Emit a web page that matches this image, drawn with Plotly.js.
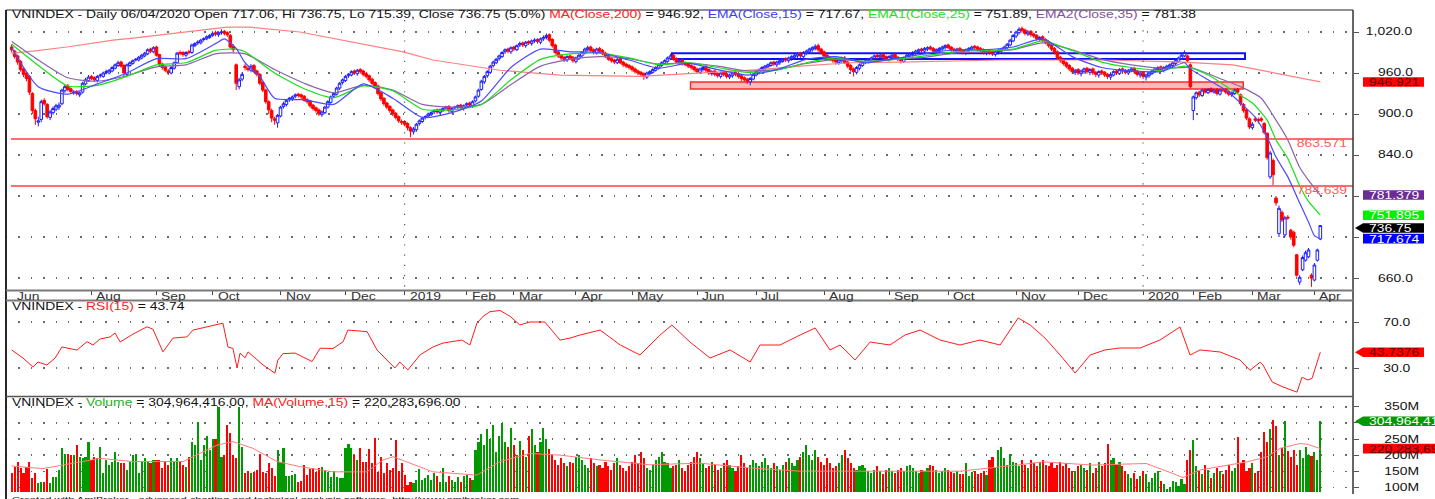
<!DOCTYPE html>
<html><head><meta charset="utf-8">
<script src="https://cdn.plot.ly/plotly-3.0.1.min.js"></script>
<style>html,body{margin:0;padding:0;background:#fff;overflow:hidden}#chart{width:1435px;height:499px}</style>
</head><body><div id="chart"></div>
<script>
// ---------------- DATA ----------------
const open = [998,992,985,977,966,960,955,930,905,888,892,920,914,895,902,907,910,915,934,941,937,931,933,928,932,944,949,955,953,949,956,955,961,960,963,967,971,976,971,958,971,974,979,979,982,985,988,995,991,998,987,973,969,963,960,967,975,990,990,986,991,990,1000,1004,1004,1009,1010,1012,1015,1019,1016,1019,1021,1019,1015,999,972,940,951,970,967,964,971,963,958,946,935,918,905,893,887,897,911,914,921,922,926,929,928,926,921,919,913,909,906,899,902,910,917,926,929,938,946,949,956,957,963,959,965,963,959,956,951,946,941,931,923,916,911,906,901,896,889,889,886,880,874,877,886,889,895,897,899,903,906,902,905,909,911,904,909,910,913,908,913,916,912,919,926,936,947,956,961,971,975,981,984,991,995,991,998,994,1001,1004,1000,1006,1003,1007,1009,1005,1010,1012,1016,1009,1001,991,986,983,979,985,983,977,981,985,989,994,998,994,989,996,993,989,986,981,979,975,981,976,973,971,969,966,963,961,959,954,959,961,964,967,971,974,977,981,986,981,975,979,975,973,971,969,966,961,965,969,965,959,963,959,955,961,959,954,956,961,959,956,953,951,947,951,957,961,964,967,969,971,976,972,975,977,981,978,981,983,985,989,984,989,991,994,996,1000,995,991,986,983,981,979,975,978,982,976,971,966,961,967,971,975,977,979,981,986,983,987,984,980,983,987,983,981,977,981,985,987,989,991,995,992,995,998,996,991,993,995,997,1001,998,995,992,996,993,989,993,995,999,998,996,994,989,993,991,987,990,992,994,997,1001,1007,1014,1019,1025,1023,1017,1021,1017,1015,1009,1013,1009,1006,1001,996,991,983,979,975,971,967,961,965,959,962,967,961,966,961,957,963,961,958,954,957,963,959,966,964,960,963,967,963,957,961,954,956,959,962,965,969,964,967,969,971,974,977,981,985,985,972,905,924,932,927,936,931,937,932,936,929,936,936,933,928,930,936,928,914,906,893,880,893,892,893,886,872,808,832,777,725,756,723,749,730,727,694,654,672,686,691,664,657,686,717.06];
const high = [1002,994,987,979,968,962,957,932,908,896,921,923,916,906,911,915,917,937,943,944,939,935,935,933,947,953,957,957,955,957,959,962,965,966,970,974,978,978,973,974,977,980,982,985,988,991,996,997,999,1000,988,975,971,966,970,977,991,993,992,992,994,1003,1005,1008,1010,1012,1015,1017,1021,1022,1021,1024,1023,1021,1017,1002,974,953,961,973,970,973,973,965,960,948,937,920,908,896,900,912,918,922,925,927,930,931,930,928,923,921,915,911,908,905,912,920,927,932,940,947,952,957,960,964,965,966,967,965,961,958,953,948,943,933,925,918,913,908,903,898,892,891,888,882,881,887,892,896,898,902,904,907,908,908,910,912,913,910,912,914,915,914,917,918,920,927,937,950,957,964,972,978,982,987,992,996,997,999,1000,1002,1006,1006,1007,1008,1009,1011,1011,1012,1015,1018,1018,1011,1003,993,988,985,986,987,985,984,988,992,997,1000,1000,996,997,998,995,991,988,983,981,982,983,978,975,973,971,968,965,963,961,962,964,967,970,974,977,980,984,988,988,983,980,981,977,975,973,971,968,968,970,971,967,964,965,961,962,963,961,959,962,963,960,958,955,953,954,960,964,967,970,972,974,977,978,978,980,982,983,984,986,988,990,991,992,994,997,999,1002,1003,997,993,988,985,983,981,981,984,985,978,973,968,970,974,978,981,982,984,987,988,988,989,986,986,988,989,985,983,984,988,990,992,994,996,997,998,999,1000,998,996,998,1000,1002,1003,999,997,997,998,995,996,998,1000,1001,1000,998,996,994,995,993,993,995,997,1000,1004,1010,1017,1022,1027,1028,1025,1023,1023,1019,1017,1014,1015,1011,1008,1003,998,993,985,981,977,973,969,966,967,965,968,969,967,968,963,964,965,963,960,960,964,965,967,968,966,966,968,969,965,962,963,959,962,965,968,970,971,970,972,974,977,980,984,988,993,987,974,927,933,934,937,938,938,939,937,938,937,938,938,935,933,937,938,930,916,908,895,888,896,895,896,888,873,846,835,780,766,759,751,752,732,729,695,664,693,700,704,667,682,703,736.75];
const low = [990,981,972,962,954,948,928,900,884,882,888,912,893,891,899,904,906,913,931,933,930,928,927,925,930,942,947,950,947,946,953,953,958,958,961,965,969,968,955,955,969,972,977,977,980,983,986,989,989,984,970,965,961,957,958,965,973,986,984,983,987,988,998,1001,1002,1006,1008,1010,1013,1014,1013,1016,1015,1013,996,990,935,936,948,964,962,961,960,955,942,932,915,900,888,884,880,895,908,911,918,919,923,924,922,918,915,909,905,902,897,896,900,908,915,923,927,935,943,947,953,955,957,956,959,955,952,947,942,937,927,919,912,907,902,897,892,887,884,882,876,866,870,874,883,887,892,895,897,900,900,899,903,906,902,901,906,907,906,905,910,910,909,917,924,934,944,953,959,968,973,978,982,988,989,988,992,992,998,998,997,1001,1000,1004,1003,1002,1007,1009,1005,997,987,982,979,976,976,979,975,974,979,983,987,992,991,987,987,989,986,982,978,975,973,973,973,969,967,965,962,959,957,955,950,951,957,959,962,965,969,972,975,979,978,973,972,971,970,967,965,962,959,959,962,961,957,956,955,953,952,955,952,951,953,955,952,948,947,944,942,949,955,958,962,964,967,969,970,969,972,975,976,975,978,980,982,982,981,986,988,991,993,991,987,982,979,977,975,972,972,975,973,967,962,955,958,964,969,973,974,976,979,981,980,980,978,977,980,979,977,974,975,979,982,984,986,988,990,989,992,993,989,988,990,992,994,995,991,990,989,990,987,986,990,992,994,992,990,987,986,987,985,984,987,990,992,995,999,1005,1011,1016,1019,1015,1014,1013,1011,1007,1006,1005,1002,997,992,987,979,975,971,967,963,959,957,957,955,959,959,957,957,954,953,957,954,951,950,955,957,957,960,958,957,961,959,955,953,951,949,953,957,960,962,962,961,964,966,968,971,975,979,983,975,937,891,921,925,925,930,929,931,930,927,927,932,929,926,925,928,929,912,902,891,878,877,888,886,888,870,833,805,796,766,720,742,720,745,716,705,662,650,670,684,689,647,655,684,715.39];
const close = [994,984,976,965,958,952,932,905,893,890,918,915,896,903,908,912,913,935,940,936,933,932,930,931,945,950,954,952,950,955,957,960,962,964,968,972,975,970,960,972,975,978,980,983,986,989,994,992,997,986,972,968,964,961,968,975,989,989,987,990,990,1001,1003,1005,1008,1010,1013,1015,1018,1017,1019,1020,1018,1016,998,994,945,950,958,968,965,970,962,958,945,935,918,906,894,891,898,910,915,920,923,925,928,927,925,920,918,912,908,905,900,903,910,918,925,930,938,945,950,955,958,962,960,964,962,958,955,950,945,940,930,922,915,910,905,900,895,890,888,885,880,875,878,885,890,894,896,900,902,905,903,906,908,910,905,908,910,912,909,912,915,913,918,925,935,948,955,962,970,976,980,985,990,994,992,997,995,1000,1003,1001,1005,1004,1007,1008,1006,1010,1012,1015,1008,1000,990,985,982,980,984,982,978,982,986,990,995,997,993,990,995,992,988,985,980,978,976,980,975,972,970,968,965,962,960,958,955,960,962,965,968,972,975,978,982,985,980,976,978,974,972,970,968,965,962,966,968,964,960,962,958,956,960,958,955,957,960,958,955,952,950,948,952,958,962,965,968,970,972,975,973,976,978,980,979,982,984,986,988,985,990,992,995,997,999,994,990,985,982,980,978,976,979,981,975,970,965,962,968,972,976,978,980,982,985,984,986,983,981,984,986,982,980,978,982,986,988,990,992,994,993,996,997,995,992,994,996,998,1000,997,994,993,995,992,990,994,996,998,997,995,993,990,992,990,988,991,993,995,998,1002,1008,1015,1020,1024,1022,1018,1020,1016,1014,1010,1012,1008,1005,1000,995,990,982,978,974,970,966,962,964,960,963,966,962,965,960,958,962,960,957,955,958,962,960,965,963,961,964,966,962,958,960,955,957,960,963,966,968,965,968,970,972,975,978,982,986,990,978,940,925,931,928,935,932,936,933,935,930,935,935,932,929,931,935,932,915,905,894,881,885,891,890,891,873,836,843,811,770,762,745,748,748,720,708,664,661,690,697,701,660,679,701,736.75];
// volume in millions of shares
const volume = [143,164,179,159,145,164,179,128,143,112,117,117,156,112,133,133,154,221,203,205,200,200,231,195,190,195,242,185,195,190,226,143,185,169,179,210,179,176,174,154,179,200,203,143,179,190,179,174,185,185,185,159,179,169,190,179,190,179,169,164,195,242,231,304,185,231,259,216,250,250,350,195,200,294,268,200,190,350,226,143,150,145,148,154,203,148,145,177,159,135,216,179,221,135,135,138,141,117,119,169,138,156,159,148,159,164,154,148,133,151,133,128,130,221,234,221,200,185,221,179,179,218,174,252,148,195,143,174,154,159,247,151,177,138,107,117,112,122,156,122,128,138,122,143,135,117,161,117,135,122,117,133,117,135,138,128,122,216,240,265,230,280,250,295,210,260,300,240,225,285,230,200,245,215,195,260,280,230,210,240,285,250,220,200,185,170,190,175,165,180,175,195,200,185,170,160,190,175,165,170,160,180,165,155,175,190,170,160,150,165,180,200,175,210,190,160,155,170,185,195,210,180,175,160,165,170,185,160,150,170,180,195,210,190,175,160,165,180,170,155,160,175,185,170,160,150,165,200,175,160,170,185,175,165,180,190,170,160,175,165,155,170,180,190,175,165,185,195,210,230,200,185,215,195,180,170,190,175,160,165,175,200,215,190,175,160,155,165,170,160,150,145,155,165,150,140,155,160,150,145,155,160,150,165,170,160,150,145,155,150,160,170,165,155,145,150,160,155,148,145,150,142,140,174,135,148,150,140,145,150,138,185,195,160,216,226,190,170,205,180,175,165,185,170,160,185,175,165,180,185,170,165,175,160,170,180,165,175,160,150,150,165,170,160,155,175,145,160,180,165,175,236,185,190,170,180,165,150,140,130,145,125,135,150,140,115,130,145,150,120,110,95,100,120,115,105,125,110,185,216,247,165,150,140,170,155,130,145,160,150,140,155,170,150,160,257,175,185,150,160,175,145,150,211,273,242,281,310,291,200,221,305,213,195,216,169,216,190,226,200,197,210,185,304.96];

// indicator lines, read at sample bars (bar index, value)
const ma200Bar = [0,7.2,18.7,34.3,41.1,72.9,80.7,97.6,132.5,142.6,165.3,185.6,212.7,233,253.3,266.9,283.8,300.7,334.6,370.4,396.5,413.4,425,443];
const ma200Val = [989,992,998,1008,1011,1027,1027,1020,991,979,964,957,955,960,965,970,975,976,979,979,976,972,962,946.92];
const ema15Bar = [0,9,19,29,39,49,59,69,72,76,79,84,89,99,109,119,129,139,149,159,169,179,189,199,209,219,229,239,249,259,269,279,289,299,309,319,329,339,349,359,369,379,389,397,399,405,411,417,421,425,428,432,436,439,441,443];
const ema15Val = [997,940,929,944,960,981,981,1003,1010,996,975,955,923,921,914,944,923,895,902,919,968,995,991,990,979,967,974,965,957,965,980,984,975,981,988,994,994,998,1010,984,968,963,962,975,966,950,935,912,895,866,837,808,770,742,722,717.67];
const ema25Bar = [0,9,19,29,39,49,59,69,76,79,89,99,109,119,129,139,149,159,169,179,189,199,209,219,229,239,249,259,269,279,289,299,309,319,329,339,349,359,369,379,389,397,399,406,413,420,425,428,432,436,439,443];
const ema25Val = [1002,971,941,942,955,972,975,993,995,991,960,937,924,941,934,907,906,914,950,980,988,989,982,972,975,968,961,964,975,982,977,980,985,991,993,995,1007,993,976,968,964,970,968,955,935,916,891,862,835,795,772,751.89];
const ema35Bar = [0,9,19,29,39,49,59,69,79,89,99,109,119,129,139,149,159,169,179,189,199,209,219,229,239,249,259,269,279,289,299,309,319,329,339,349,359,369,379,389,399,409,416,423,428,432,436,439,443];
const ema35Val = [1006,979,953,948,956,969,972,988,988,965,945,931,942,935,914,910,914,943,970,980,984,981,973,975,970,963,965,974,980,977,980,983,989,991,994,1004,994,980,972,967,968,952,940,923,891,862,822,803,781.38];
const rsiBar = [0,3.8,7.2,8.9,11.9,14.7,17,22.1,25.5,27.5,29.9,33.3,35,36.7,41,45.8,47.8,51.2,54.6,59.3,61.4,66.1,68.1,71.5,73.2,74.9,76.3,77.3,79,80,85.1,89.1,90.1,91.8,95.9,101.7,104.4,108.8,112.2,113.8,120.3,123.7,129.7,131.4,134.1,138.2,142.6,146,152.4,155.1,157.5,159.6,161.9,165.3,168.7,172,175.4,180.5,185.6,189,192.4,199.2,206,212.7,219.5,223.5,229.6,236.4,243.2,250,253.3,260.1,266.9,272,277,280.4,285.5,290.6,297.3,302.4,307.5,314.3,321,327.8,334.6,340.7,344.8,349.8,354.9,360,365.1,370.1,375.2,382,388.7,395.5,398.9,402.3,409.1,415.8,419.2,422.6,423.6,426.7,430.4,435.1,436.8,438.8,440.2,443];
const rsiVal = [45.7,38.7,30.9,35.2,32.6,38.7,48.3,45.6,52.9,50,55.2,57,60.4,52.6,59.4,65.8,63.8,44,56,57,63,66,67,69,48.3,47,30,43,38.8,44,32.6,25.5,36.8,42.5,43,35.6,47.2,47,52.9,63,61.6,45.6,30,35.2,28.3,41.3,48.3,51.7,54.3,50,69,75,79,80,75,67.4,70,70,54.3,56,58.7,63,50,41.3,58.7,67.4,52.6,38.7,45.7,35.2,50,50,58.7,64.8,45.7,50,37,52.6,50,58.7,63,54.3,50,54.3,50,73.5,67.4,56,41.3,25.6,41.3,45.7,47.4,47.4,54.3,65.7,41.3,45.7,43.9,37,28,35,32.6,17.8,13.5,9,22,19.6,21,43.74];
const volMaBar = [0,10.6,29.9,41,58,69.5,74.9,81.7,89.8,97.6,108.8,120.3,125.7,129.1,142.6,157.5,165.3,175.4,185.6,199.2,216,233,250,266.9,283.8,300.7,321,340.3,349.1,366,384,393.1,396.5,402.3,411.4,418.2,425,429.4,436.1,438.5,443];
const volMaVal = [166,158,190,180,180,231,242,221,180,164,148,148,185,195,148,138,180,205,200,185,170,175,160,150,150,150,150,169,179,169,174,143,130,154,169,179,195,221,236,234,220.28];

// axis ticks / labels
const monthLabel = ['Jun','Aug','Sep','Oct','Nov','Dec','2019','Feb','Mar','Apr','May','Jun','Jul','Aug','Sep','Oct','Nov','Dec','2020','Feb','Mar','Apr'];
const monthBar   = [0,27,49,68,91,113,133,154,170,191,210,232,252,275,297,317,340,361,383,400,420,441];
const yearBar = [133,383];
const priceTick = [1020,960,900,840,780,720,660];
const priceTickText = ['1,020.0','960.0','900.0','840.0','','','660.0'];
const rsiTick = [70,30];
const rsiTickText = ['70.0','30.0'];
const volTick = [350,300,250,200,150,100];
const volTickText = ['350M','','250M','200M','150M','100M'];
// horizontal study lines and zones
const levelVal = [863.571, 794.6];
const levelText = ['863.571','784.639'];
const zoneBar0 = [223.5, 229.8];
const zoneBar1 = [417.5, 416.9];
const zoneLow  = [980.5, 936.6];
const zoneHigh = [988.8, 946.8];
// last-value tags
const mainTagVal  = [946.921, 781.379, 751.895, 736.75, 717.674];
const mainTagText = ['946.921','781.379','751.895','736.75','717.674'];
const rsiTagText = '43.7376';
const volTagText = ['304,964,416','220,283,696'];

// ---------------- LAYOUT GEOMETRY ----------------
const L=6, R=1353, T=10, B=492;
const X0=-1.93, X1=454.06;
const MAIN=[642.44,1052.19], RSI=[5.22,88.70], VOL=[85.4,380.5];
const MAINPX=[290,10], RSIPX=[396.5,300.5], VOLPX=[492,397];
const SX = 1.39; // horizontal stretch of the AmiBroker text
const FONT = 'Liberation Sans, Arial, sans-serif';
const pxX = v => (v-L)/(R-L);
const pxY = v => (B-v)/(B-T);
const barPx = i => L + (i-X0)/(X1-X0)*(R-L);
const toPx = (v, rng, pxr) => pxr[0] - (v-rng[0])/(rng[1]-rng[0])*(pxr[0]-pxr[1]);

const idx = close.map((_, i) => i);
const volColor = close.map((c, i) => c >= open[i] ? '#009a00' : '#ff0000');

const traces = [
  {type:'scatter', mode:'lines', x:ma200Bar, y:ma200Val, line:{color:'#ff8080', width:1.2}, xaxis:'x', yaxis:'y'},
  {type:'scatter', mode:'lines', x:ema35Bar, y:ema35Val, line:{color:'#8a64aa', width:1.2, shape:'spline', smoothing:0.6}, xaxis:'x', yaxis:'y'},
  {type:'scatter', mode:'lines', x:ema25Bar, y:ema25Val, line:{color:'#19e019', width:1.2, shape:'spline', smoothing:0.6}, xaxis:'x', yaxis:'y'},
  {type:'scatter', mode:'lines', x:ema15Bar, y:ema15Val, line:{color:'#4a4aff', width:1.2, shape:'spline', smoothing:0.6}, xaxis:'x', yaxis:'y'},
  {type:'candlestick', x:idx, open:open, high:high, low:low, close:close, xaxis:'x', yaxis:'y',
   increasing:{line:{color:'#1c1cff', width:1}, fillcolor:'#ffffff'},
   decreasing:{line:{color:'#ff0000', width:1}, fillcolor:'#ff0000'}, whiskerwidth:0},
  {type:'scatter', mode:'lines', x:rsiBar, y:rsiVal, line:{color:'#ff1a1a', width:1}, xaxis:'x', yaxis:'y2'},
  {type:'bar', x:idx, y:volume, marker:{color:volColor, line:{width:0}}, width:0.72, xaxis:'x', yaxis:'y3'},
  {type:'scatter', mode:'lines', x:volMaBar, y:volMaVal, line:{color:'#ff7a7a', width:1}, xaxis:'x', yaxis:'y3'}
];

const grid = {showgrid:true, gridcolor:'#6a6a6a', gridwidth:1.4, griddash:'1.4px,11px', zeroline:false, showline:false,
  side:'right', ticks:'outside', ticklen:5, tickwidth:1, tickcolor:'#555', showticklabels:false, anchor:'x', fixedrange:true};

const layout = {
  width:1435, height:499, margin:{l:L, r:1435-R, t:T, b:499-B}, paper_bgcolor:'#fff', plot_bgcolor:'#fff',
  showlegend:false, hovermode:false, bargap:0, boxgap:0.12, boxgroupgap:0,
  font:{family:FONT, size:10, color:'#111'},
  xaxis:{range:[X0,X1], showgrid:false, zeroline:false, showline:false, anchor:'y', ticks:'outside', ticklen:4,
    tickcolor:'#444', tickvals:monthBar.slice(1), showticklabels:false, rangeslider:{visible:false}, fixedrange:true},
  yaxis:Object.assign({}, grid, {domain:[pxY(MAINPX[0]), pxY(MAINPX[1])], range:MAIN, tickvals:priceTick}),
  yaxis2:Object.assign({}, grid, {domain:[pxY(RSIPX[0]), pxY(RSIPX[1])], range:RSI, tickvals:rsiTick}),
  yaxis3:Object.assign({}, grid, {domain:[0, pxY(VOLPX[1])], range:VOL, tickvals:volTick}),
  shapes:[], annotations:[]
};
const S = layout.shapes, A = layout.annotations;
const pline = (x0,y0,x1,y1,color,w,dash) => S.push({type:'line', xref:'paper', yref:'paper', x0:pxX(x0), y0:pxY(y0), x1:pxX(x1), y1:pxY(y1), line:{color:color, width:w, dash:dash||'solid'}});
const ptext = (x, y, text, opt) => A.push(Object.assign({xref:'paper', yref:'paper', x:pxX(x), y:pxY(y), text:text, showarrow:false,
  xanchor:'left', align:'left', yanchor:'middle', font:{family:FONT, size:10, color:'#111'}}, opt||{}));

// zones (below candles)
for (let k=0;k<zoneBar0.length;k++) {
  S.push({type:'rect', xref:'x', yref:'y', x0:zoneBar0[k], x1:zoneBar1[k], y0:zoneLow[k], y1:zoneHigh[k], layer:'below',
    line:{color: k===0 ? '#1010ff' : '#ff2a2a', width: k===0 ? 2 : 1.5}, fillcolor: k===0 ? 'rgba(0,0,0,0)' : 'rgba(255,140,140,0.6)'});
}
// horizontal levels
levelVal.forEach((v,k) => {
  S.push({type:'line', xref:'paper', yref:'y', x0:pxX(11), x1:1, y0:v, y1:v, line:{color:'#ff6f6f', width:2}, layer:'below'});
  ptext(1350, toPx(v, MAIN, MAINPX)+4.5, levelText[k], {xanchor:'right', align:'right', font:{family:FONT, size:10, color:'#ff5a5a'}});
});
// year separators (main panel)
yearBar.forEach(b => pline(barPx(b), 20, barPx(b), 290, '#555', 1.2, '1.2px,9px'));

// frames
pline(L, T, R, T, '#222', 1.2);
pline(L, T, L, 499, '#111', 1.8);
pline(R, T, R, 494, '#333', 1.5);
pline(L, 290.5, R, 290.5, '#7a7a7a', 2);
pline(L, 300.5, R, 300.5, '#7a7a7a', 2);
pline(L, 396.5, R, 396.5, '#555', 1.5);

// titles
ptext(10, 15, 'VNINDEX - Daily 06/04/2020 Open 717.06, Hi 736.75, Lo 715.39, Close 736.75 (5.0%) <span style="color:#ff2020">MA(Close,200)</span> = 946.92, <span style="color:#3c3cff">EMA(Close,15)</span> = 717.67, <span style="color:#22e022">EMA1(Close,25)</span> = 751.89, <span style="color:#7f4fa0">EMA2(Close,35)</span> = 781.38');
ptext(10, 306, 'VNINDEX - <span style="color:#ff2020">RSI(15)</span> = 43.74');
ptext(10, 402, 'VNINDEX - <span style="color:#22b022">Volume</span> = 304,964,416.00, <span style="color:#ff2020">MA(Volume,15)</span> = 220,283,696.00');
ptext(10, 499.5, 'Created with AmiBroker - advanced charting and technical analysis software. http://www.amibroker.com', {font:{family:FONT, size:8, color:'#111'}});

// month labels
monthLabel.forEach((m,k) => ptext(k===0 ? 15 : barPx(monthBar[k])+3, 296, m, {font:{family:FONT, size:10, color:'#333'}}));

// right axis labels
priceTick.forEach((v,k) => { if (priceTickText[k]) ptext(1415, toPx(v, MAIN, MAINPX), priceTickText[k], {xanchor:'right', align:'right'}); });
rsiTick.forEach((v,k) => ptext(1413, toPx(v, RSI, RSIPX), rsiTickText[k], {xanchor:'right', align:'right'}));
volTick.forEach((v,k) => { if (volTickText[k]) ptext(1421, toPx(v, VOL, VOLPX), volTickText[k], {xanchor:'right', align:'right'}); });

// value tags
const tag = (yc, bg, fg, text, arrow, right) => {
  const h = 4.8, xl = 1363, xr = right || 1424;
  if (arrow) {
    S.push({type:'path', xref:'paper', yref:'paper', fillcolor:bg, line:{width:0},
      path:`M ${pxX(1355)} ${pxY(yc)} L ${pxX(xl)} ${pxY(yc-h)} L ${pxX(xr)} ${pxY(yc-h)} L ${pxX(xr)} ${pxY(yc+h)} L ${pxX(xl)} ${pxY(yc+h)} Z`});
  } else {
    S.push({type:'rect', xref:'paper', yref:'paper', x0:pxX(xl), x1:pxX(xr), y0:pxY(yc+h), y1:pxY(yc-h), fillcolor:bg, line:{width:0}});
  }
  ptext(1367, yc+0.5, text, {font:{family:FONT, size:10, color:fg}});
};
const tagStyle = [['#ff0000','#5a0000',false],['#6b2c96','#ffffff',false],['#00f000','#ffffff',false],['#000000','#ffffff',true],['#0000ff','#ffffff',false]];
const tagShift = [0,0,0,2.5,0];
mainTagVal.forEach((v,k) => tag(toPx(v, MAIN, MAINPX)+tagShift[k], tagStyle[k][0], tagStyle[k][1], mainTagText[k], tagStyle[k][2]));
tag(toPx(rsiVal[rsiVal.length-1], RSI, RSIPX), '#ff0000', '#5a0000', rsiTagText, true);
tag(toPx(volume[volume.length-1], VOL, VOLPX), '#009a00', '#ffffff', volTagText[0], true, 1440);
tag(toPx(volMaVal[volMaVal.length-1], VOL, VOLPX), '#ff0000', '#5a0000', volTagText[1], false, 1440);

Plotly.newPlot('chart', traces, layout, {displayModeBar:false, staticPlot:true}).then(() => {
  document.querySelectorAll('#chart .annotation-text').forEach(t => {
    const anchor = t.getAttribute('text-anchor') || 'start';
    const bb = t.getBBox();
    const p = anchor === 'middle' ? bb.x + bb.width/2 : anchor === 'end' ? bb.x + bb.width : bb.x;
    t.setAttribute('transform', `translate(${p},0) scale(${SX},1) translate(${-p},0)`);
  });
});
</script></body></html>
